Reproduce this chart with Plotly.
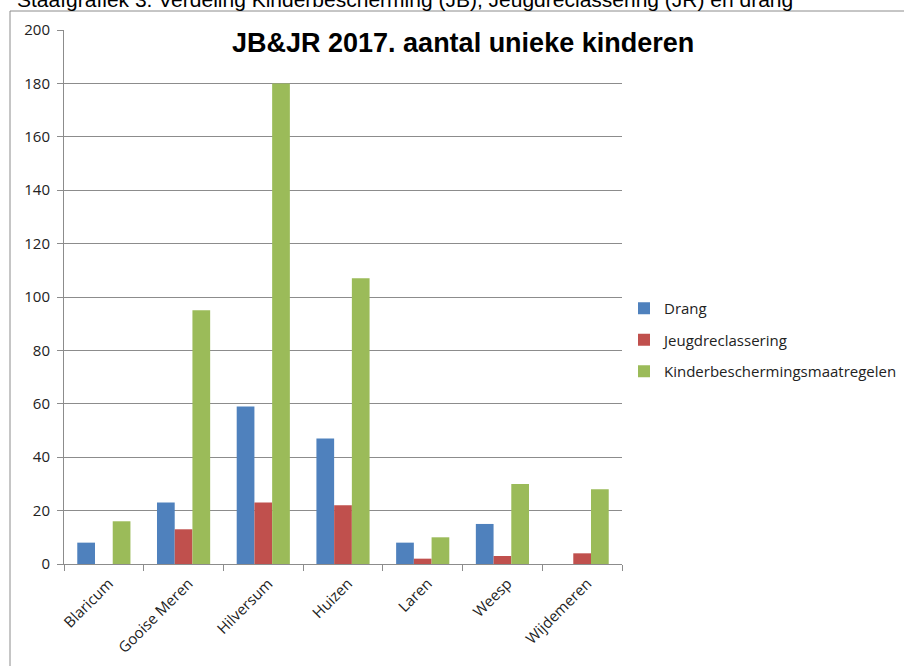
import plotly.graph_objects as go

categories = ["Blaricum", "Gooise Meren", "Hilversum", "Huizen", "Laren", "Weesp", "Wijdemeren"]
drang = [8, 23, 59, 47, 8, 15, 0]
jeugdreclassering = [0, 13, 23, 22, 2, 3, 4]
kinderbescherming = [16, 95, 180, 107, 10, 30, 28]
series_names = ["Drang", "Jeugdreclassering", "Kinderbeschermingsmaatregelen"]
series_values = [drang, jeugdreclassering, kinderbescherming]
colors = ["#4F81BD", "#C0504D", "#9BBB59"]
y_ticks = [0, 20, 40, 60, 80, 100, 120, 140, 160, 180, 200]

W, H = 904, 666
L, R, T, B = 64, 282, 30, 102
PW, PH = W - L - R, H - T - B

def px(x):
    return (x - L) / PW

def py(y):
    return (H - B - y) / PH

fig = go.Figure()
for i, (name, vals) in enumerate(zip(series_names, series_values)):
    fig.add_trace(go.Bar(
        x=categories, y=vals, name=name,
        marker=dict(color=colors[i], line=dict(width=0)),
        legendgroup=name,
    ))

fig.update_layout(
    width=W, height=H,
    margin=dict(l=L, r=R, t=T, b=B, autoexpand=False),
    paper_bgcolor="white", plot_bgcolor="white",
    barmode="group", bargap=0.333, bargroupgap=0,
    font=dict(family="Open Sans, sans-serif", size=15, color="#333333"),
    showlegend=True,
    legend=dict(x=px(624), xanchor="left", y=py(340), yanchor="middle",
                traceorder="grouped", tracegroupgap=9,
                font=dict(family="Open Sans, sans-serif", size=15, color="#222222"),
                bgcolor="rgba(0,0,0,0)"),
    xaxis=dict(
        showline=True, linecolor="#8c8c8c", linewidth=1,
        ticks="outside", ticklen=6, tickcolor="#8c8c8c", tickson="boundaries",
        tickangle=-45, showgrid=False, ticklabelstandoff=4, ticklabelshift=5,
        tickfont=dict(family="Open Sans, sans-serif", size=15, color="#222222"),
    ),
    yaxis=dict(
        range=[0, 200], tickvals=y_ticks,
        showline=True, linecolor="#8c8c8c", linewidth=1,
        ticks="outside", ticklen=6, tickcolor="#8c8c8c",
        showgrid=True, gridcolor="#8c8c8c", gridwidth=1,
        zeroline=False, ticklabelstandoff=4,
        tickfont=dict(family="Open Sans, sans-serif", size=15, color="#222222"),
    ),
    annotations=[
        dict(text="Staafgrafiek 3. Verdeling Kinderbescherming (JB), Jeugdreclassering (JR) en drang",
             xref="paper", yref="paper", x=px(15), y=py(13), xanchor="left", yanchor="bottom",
             showarrow=False,
             font=dict(family="Liberation Sans, Arial, sans-serif", size=21, color="#000000")),
        dict(text="<b>JB&JR 2017. aantal unieke kinderen</b>",
             xref="paper", yref="paper", x=px(463), y=py(43), xanchor="center", yanchor="middle",
             showarrow=False,
             font=dict(family="Liberation Sans, sans-serif", size=27, color="#000000")),
    ],
    shapes=[
        dict(type="line", xref="paper", yref="paper", x0=px(10), x1=px(10), y0=py(11), y1=py(666),
             line=dict(color="#8c8c8c", width=1)),
        dict(type="line", xref="paper", yref="paper", x0=px(10), x1=px(904), y0=py(11), y1=py(11),
             line=dict(color="#8c8c8c", width=1)),
    ],
)

fig.write_html("out.html", config={"displayModeBar": False},
               post_script="document.body.style.margin='0';document.body.style.overflow='hidden';")
